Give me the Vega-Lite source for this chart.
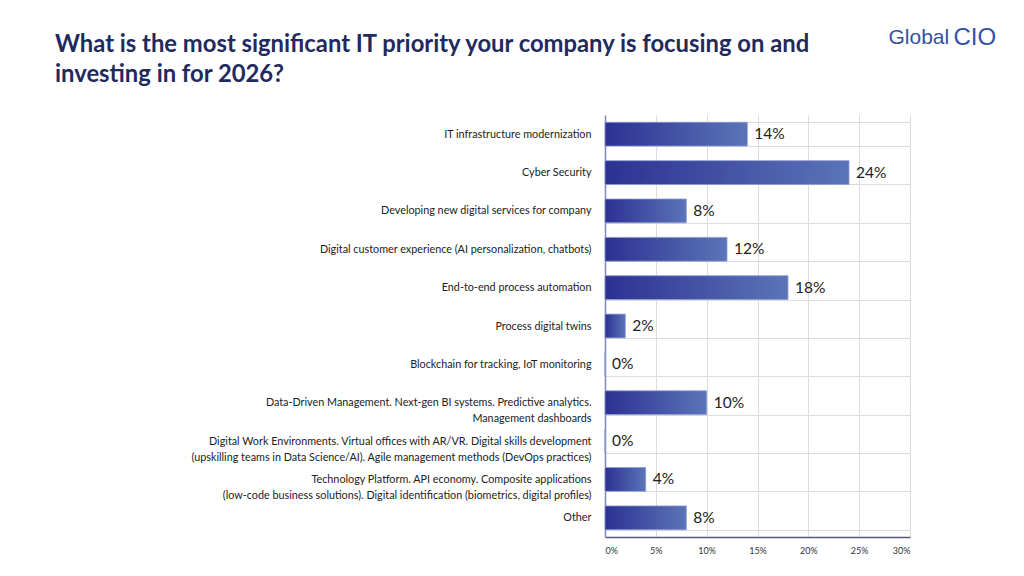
{
  "$schema": "https://vega.github.io/schema/vega-lite/v6.json",
  "autosize": {"type": "none"},
  "width": 305,
  "height": 422,
  "padding": {"left": 605, "top": 115, "right": 114, "bottom": 39},
  "background": "white",
  "config": {"view": {"stroke": null}, "font": "Lato"},
  "title": {
    "text": ["What is the most significant IT priority your company is focusing on and", "investing in for 2026?"],
    "anchor": "start",
    "frame": "group",
    "dx": -550,
    "offset": -62,
    "font": "Lato",
    "fontSize": 23.8,
    "fontWeight": "bold",
    "lineHeight": 30,
    "color": "#1F2A5E"
  },
  "data": {
    "values": [
      {"priority": "IT infrastructure modernization", "share": 0.14},
      {"priority": "Cyber Security", "share": 0.24},
      {"priority": "Developing new digital services for company", "share": 0.08},
      {"priority": "Digital customer experience (AI personalization, chatbots)", "share": 0.12},
      {"priority": "End-to-end process automation", "share": 0.18},
      {"priority": "Process digital twins", "share": 0.02},
      {"priority": "Blockchain for tracking, IoT monitoring", "share": 0.0},
      {"priority": "Data-Driven Management. Next-gen BI systems. Predictive analytics.|Management dashboards", "share": 0.10},
      {"priority": "Digital Work Environments. Virtual offices with AR/VR. Digital skills development|(upskilling teams in Data Science/AI). Agile management methods (DevOps practices)", "share": 0.0},
      {"priority": "Technology Platform. API economy. Composite applications|(low-code business solutions). Digital identification (biometrics, digital profiles)", "share": 0.04},
      {"priority": "Other", "share": 0.08}
    ]
  },
  "encoding": {
    "y": {
      "field": "priority",
      "type": "nominal",
      "sort": null,
      "scale": {"paddingInner": 0.38, "paddingOuter": 0.19},
      "axis": {
        "title": "Global",
        "titleAngle": 0,
        "titleX": 283,
        "titleY": -78,
        "titleAlign": "left",
        "titleBaseline": "middle",
        "titleFont": "Liberation Sans",
        "titleFontSize": 21,
        "titleFontWeight": "normal",
        "titleColor": "#3452A4",
        "labelExpr": "split(datum.label, '|')",
        "labelFont": "Lato",
        "labelFontSize": 10.8,
        "labelLineHeight": 16,
        "labelColor": "#222222",
        "labelPadding": 14,
        "labelLimit": 0,
        "ticks": false,
        "tickBand": "extent",
        "grid": true,
        "gridColor": "#DCDCDC",
        "gridWidth": 1,
        "domainColor": "#7F86B8",
        "domainWidth": 1.5
      }
    },
    "x": {
      "field": "share",
      "type": "quantitative",
      "scale": {"domain": [0, 0.3]},
      "axis": {
        "format": ".0%",
        "values": [0, 0.05, 0.1, 0.15, 0.2, 0.25, 0.3],
        "title": "CIO",
        "titleX": 348,
        "titleY": -500,
        "titleAlign": "left",
        "titleBaseline": "middle",
        "titleFont": "Liberation Sans",
        "titleFontSize": 24,
        "titleFontWeight": "normal",
        "titleColor": "#3452A4",
        "labelFont": "Lato",
        "labelFontSize": 9,
        "labelColor": "#333333",
        "labelPadding": 9,
        "ticks": false,
        "grid": true,
        "gridColor": "#DCDCDC",
        "domainColor": "#555a7a",
        "domainWidth": 1.5
      }
    }
  },
  "layer": [
    {
      "mark": {
        "type": "bar",
        "color": {
          "gradient": "linear",
          "x1": 0, "y1": 0, "x2": 1, "y2": 0,
          "stops": [
            {"offset": 0, "color": "#2C3192"},
            {"offset": 1, "color": "#5B74B8"}
          ]
        },
        "stroke": "#8C9AD0",
        "strokeWidth": 0.8
      }
    },
    {
      "mark": {"type": "text", "align": "left", "baseline": "middle", "dx": 7, "fontSize": 15.5, "font": "Lato", "color": "#222222"},
      "encoding": {"text": {"field": "share", "type": "quantitative", "format": ".0%"}}
    }
  ]
}
